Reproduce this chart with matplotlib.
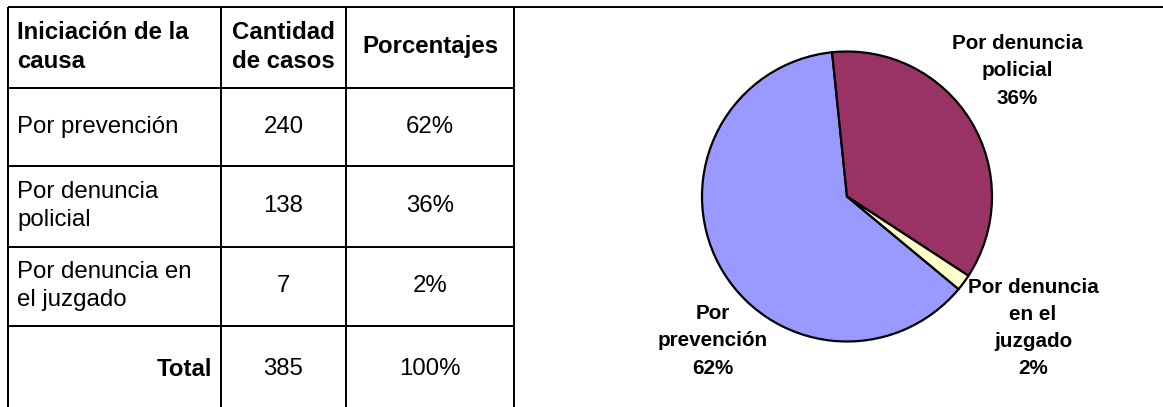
import matplotlib
matplotlib.use("Agg")
import matplotlib.pyplot as plt

# datos de la tabla
categorias = ["Por prevención", "Por denuncia\npolicial", "Por denuncia en\nel juzgado"]
casos = [240, 138, 7]
porcentajes = ["62%", "36%", "2%"]
encabezados = ["Iniciación de la\ncausa", "Cantidad\nde casos", "Porcentajes"]

# etiquetas y colores del grafico de torta
etiquetas_torta = ["Por\nprevención\n62%", "Por denuncia\npolicial\n36%",
                   "Por denuncia\nen el\njuzgado\n2%"]
colores = ["#9999FF", "#993366", "#FFFFCC"]

W, H = 1163, 407
plt.rcParams['font.family'] = ['Liberation Sans', 'DejaVu Sans']
px = 72 / 100  # puntos por pixel

fig = plt.figure(figsize=(W / 100, H / 100), dpi=100)

# Torta
cx, cy, r = 847, 196.5, 145
ax_pie = fig.add_axes([(cx - r) / W, (H - cy - r) / H, 2 * r / W, 2 * r / H])
inicio = 95.9 + casos[0] / sum(casos) * 360
ax_pie.pie(casos, colors=colores, startangle=inicio, counterclock=False,
           wedgeprops=dict(edgecolor="black", linewidth=1.6))
ax_pie.set_xlim(-1, 1)
ax_pie.set_ylim(-1, 1)
ax_pie.set_aspect("equal")
ax_pie.axis("off")

# Capa para la tabla y textos (coordenadas en pixeles)
ax = fig.add_axes([0, 0, 1, 1], zorder=2)
ax.patch.set_alpha(0)
ax.set_xlim(0, W)
ax.set_ylim(H, 0)
ax.axis("off")

lw = 2 * px
ax.plot([8, W], [7, 7], color="black", lw=lw, solid_capstyle="butt")
for x in [8, 221, 346, 514]:
    ax.plot([x, x], [7, H], color="black", lw=lw, solid_capstyle="butt")
for y in [88, 166, 247, 326]:
    ax.plot([8, 514], [y, y], color="black", lw=lw, solid_capstyle="butt")

fs = 24 * px
col2, col3 = 283.5, 430
ax.text(17, 47, encabezados[0], fontsize=fs, fontweight="bold", ha="left", va="center", linespacing=1.3)
ax.text(col2, 47, encabezados[1], fontsize=fs, fontweight="bold", ha="center", va="center", linespacing=1.3)
ax.text(col3, 47, encabezados[2], fontsize=fs, fontweight="bold", ha="center", va="center")

filas_y = [127, 206, 286]
for cat, n, p, y in zip(categorias, casos, porcentajes, filas_y):
    ax.text(17, y, cat, fontsize=fs, ha="left", va="center", linespacing=1.3)
    ax.text(col2, y, str(n), fontsize=fs, ha="center", va="center")
    ax.text(col3, y, p, fontsize=fs, ha="center", va="center")

ax.text(212, 369, "Total", fontsize=fs, fontweight="bold", ha="right", va="center")
ax.text(col2, 369, str(sum(casos)), fontsize=fs, ha="center", va="center")
ax.text(col3, 369, "100%", fontsize=fs, ha="center", va="center")

# etiquetas de la torta
fl = 20.6 * px
pos_etiquetas = [(713, 341), (1017, 71), (1033, 328)]
for txt, (x, y) in zip(etiquetas_torta, pos_etiquetas):
    ax.text(x, y, txt, fontsize=fl, fontweight="bold", ha="center", va="center",
            linespacing=1.55)

fig.savefig("out.png", dpi=100)
